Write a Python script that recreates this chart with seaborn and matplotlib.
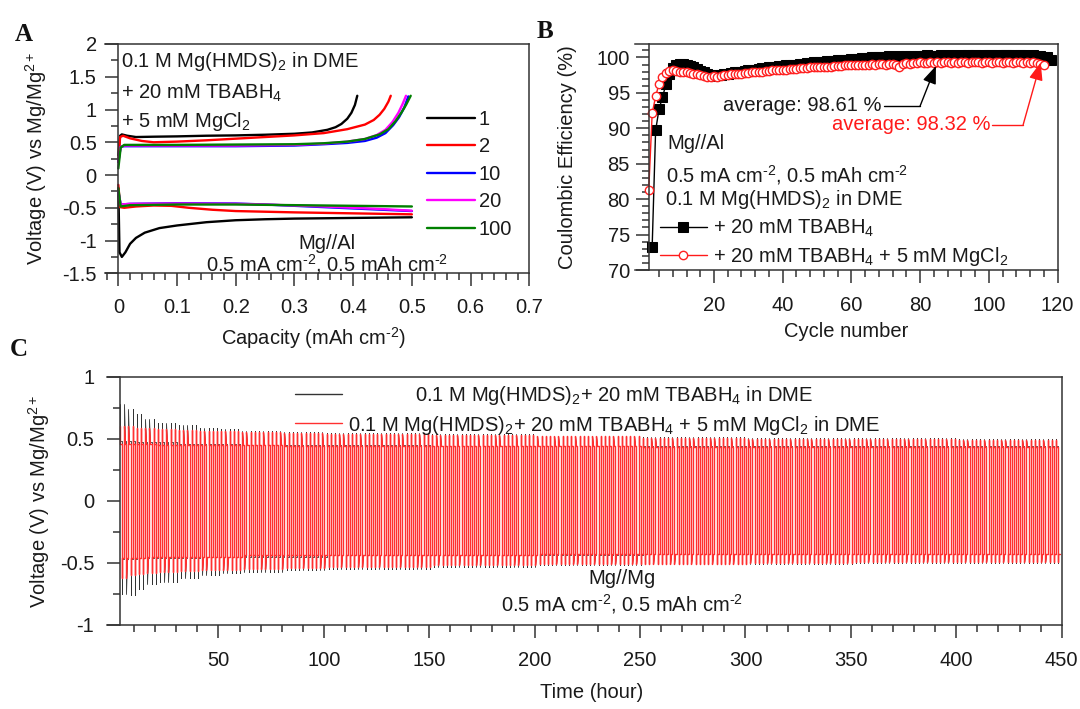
import numpy as np
import pandas as pd
import matplotlib
matplotlib.use("Agg")
import matplotlib.pyplot as plt
import seaborn as sns
from matplotlib.ticker import FixedLocator, MultipleLocator, FuncFormatter

sns.set_theme(style="ticks")
plt.rcParams['font.family'] = ['Liberation Sans', 'DejaVu Sans']
plt.rcParams['mathtext.fontset'] = 'custom'
plt.rcParams['mathtext.rm'] = 'Liberation Sans'
plt.rcParams['mathtext.it'] = 'Liberation Sans:italic'
plt.rcParams['mathtext.bf'] = 'Liberation Sans:bold'
plt.rcParams['axes.unicode_minus'] = False
plt.rcParams['path.simplify'] = False

# ---------------- Panel A data: voltage profiles of selected cycles ----------------
cycles_A = ["1", "2", "10", "20", "100"]
colors_A = ["#000000", "#ff0000", "#0000ff", "#ff00ff", "#008000"]

c1_chg_cap = [0, 0.003, 0.006, 0.015, 0.03, 0.06, 0.1, 0.15, 0.2, 0.25, 0.3, 0.33, 0.356, 0.37, 0.38, 0.39, 0.397, 0.403, 0.407]
c1_chg_v = [0.30, 0.60, 0.62, 0.60, 0.58, 0.585, 0.59, 0.60, 0.605, 0.615, 0.63, 0.65, 0.69, 0.73, 0.78, 0.86, 0.95, 1.07, 1.21]
c1_dis_cap = [0, 0.002, 0.006, 0.012, 0.02, 0.03, 0.045, 0.07, 0.1, 0.15, 0.2, 0.25, 0.3, 0.4, 0.5]
c1_dis_v = [-0.20, -1.18, -1.25, -1.18, -1.05, -0.96, -0.88, -0.81, -0.77, -0.72, -0.69, -0.675, -0.665, -0.655, -0.645]

c2_chg_cap = [0, 0.003, 0.008, 0.02, 0.04, 0.06, 0.1, 0.15, 0.2, 0.25, 0.3, 0.35, 0.39, 0.42, 0.435, 0.445, 0.453, 0.46, 0.464]
c2_chg_v = [0.20, 0.58, 0.60, 0.56, 0.52, 0.50, 0.51, 0.53, 0.555, 0.58, 0.605, 0.64, 0.70, 0.77, 0.84, 0.92, 1.01, 1.12, 1.21]
c2_dis_cap = [0, 0.003, 0.01, 0.03, 0.06, 0.09, 0.12, 0.16, 0.2, 0.25, 0.3, 0.4, 0.5]
c2_dis_v = [-0.15, -0.49, -0.50, -0.48, -0.465, -0.47, -0.50, -0.53, -0.55, -0.56, -0.57, -0.585, -0.60]

c10_chg_cap = [0, 0.004, 0.01, 0.05, 0.1, 0.2, 0.3, 0.35, 0.39, 0.42, 0.44, 0.455, 0.468, 0.478, 0.487, 0.494]
c10_chg_v = [0.20, 0.43, 0.44, 0.44, 0.44, 0.44, 0.45, 0.47, 0.49, 0.52, 0.57, 0.64, 0.76, 0.88, 1.03, 1.20]
c10_dis_cap = [0, 0.004, 0.02, 0.1, 0.2, 0.25, 0.3, 0.35, 0.4, 0.45, 0.5]
c10_dis_v = [-0.25, -0.45, -0.44, -0.43, -0.435, -0.45, -0.47, -0.49, -0.51, -0.53, -0.55]

c20_chg_cap = [0, 0.004, 0.01, 0.05, 0.1, 0.2, 0.3, 0.35, 0.39, 0.42, 0.44, 0.455, 0.467, 0.477, 0.484, 0.49]
c20_chg_v = [0.20, 0.43, 0.45, 0.45, 0.45, 0.45, 0.46, 0.48, 0.51, 0.55, 0.61, 0.69, 0.81, 0.95, 1.08, 1.21]
c20_dis_cap = [0, 0.004, 0.02, 0.1, 0.2, 0.25, 0.3, 0.35, 0.4, 0.45, 0.5]
c20_dis_v = [-0.25, -0.45, -0.44, -0.435, -0.44, -0.45, -0.465, -0.48, -0.50, -0.52, -0.545]

c100_chg_cap = [0, 0.004, 0.01, 0.05, 0.1, 0.2, 0.3, 0.35, 0.39, 0.42, 0.445, 0.46, 0.472, 0.482, 0.49, 0.498]
c100_chg_v = [0.10, 0.42, 0.46, 0.46, 0.46, 0.465, 0.47, 0.485, 0.51, 0.55, 0.62, 0.70, 0.82, 0.95, 1.07, 1.21]
c100_dis_cap = [0, 0.004, 0.02, 0.1, 0.2, 0.3, 0.4, 0.5]
c100_dis_v = [-0.20, -0.48, -0.46, -0.45, -0.45, -0.46, -0.47, -0.48]

# ---------------- Panel B data: Coulombic efficiency ----------------
ce_black = [73.3, 89.7, 92.7, 94.4, 96.2, 97.6, 98.5, 98.9, 99.1, 99.1,
            99.0, 98.8, 98.6, 98.4, 98.1, 97.9, 97.7, 97.5, 97.4, 97.5,
            97.5, 97.6, 97.7, 97.8, 97.9, 98.0, 98.0, 98.1, 98.2, 98.3,
            98.3, 98.4, 98.5, 98.5, 98.6, 98.7, 98.7, 98.8, 98.8, 98.9,
            98.9, 99.0, 99.0, 99.1, 99.1, 99.2, 99.2, 99.3, 99.3, 99.4,
            99.4, 99.5, 99.5, 99.5, 99.6, 99.6, 99.7, 99.7, 99.8, 99.8,
            99.8, 99.9, 99.9, 99.9, 100.0, 100.0, 100.0, 100.1, 100.1, 100.2,
            100.1, 100.1, 100.2, 100.1, 100.2, 100.2, 100.1, 100.2, 100.2, 100.2,
            100.3, 100.2, 100.2, 100.2, 100.3, 100.2, 100.2, 100.3, 100.2, 100.2,
            100.3, 100.2, 100.3, 100.4, 100.3, 100.2, 100.3, 100.2, 100.3, 100.3,
            100.2, 100.3, 100.3, 100.4, 100.3, 100.3, 100.2, 100.3, 100.3, 100.2,
            100.2, 100.3, 100.2, 100.2, 100.1, 100.0, 99.6]
ce_red = [81.3, 92.1, 94.5, 96.3, 97.2, 97.8, 98.1, 98.2, 98.1, 98.0,
          98.0, 97.9, 97.8, 97.7, 97.6, 97.5, 97.4, 97.2, 97.3, 97.4,
          97.3, 97.4, 97.5, 97.5, 97.6, 97.6, 97.7, 97.7, 97.8, 97.8,
          97.9, 97.9, 98.0, 98.0, 98.1, 98.1, 98.2, 98.2, 98.3, 98.3,
          98.3, 98.4, 98.4, 98.4, 98.5, 98.5, 98.5, 98.6, 98.6, 98.6,
          98.6, 98.7, 98.7, 98.7, 98.8, 98.8, 98.8, 98.9, 98.9, 98.9,
          99.0, 98.9, 99.0, 99.0, 99.0, 99.1, 99.0, 99.1, 99.1, 99.0,
          99.1, 99.1, 98.9, 98.6, 99.1, 99.2, 99.1, 99.2, 99.2, 99.3,
          99.2, 99.2, 99.3, 99.2, 99.3, 99.2, 99.3, 99.3, 99.2, 99.3,
          99.2, 99.3, 99.3, 99.2, 99.4, 99.3, 99.3, 99.2, 99.3, 99.3,
          99.2, 99.3, 99.3, 99.2, 99.3, 99.3, 99.2, 99.3, 99.3, 99.2,
          99.3, 99.2, 99.4, 99.2, 99.1, 99.0]
first_cycle_black = 2
first_cycle_red = 1
avg_black_label = "average: 98.61 %"
avg_red_label = "average: 98.32 %"

# ---------------- Panel C data: symmetric cell cycling envelope ----------------
c_env_t = [3, 6, 10, 15, 20, 30, 40, 50, 60, 80, 100, 150, 200, 250, 300, 350, 400]
black_peak_hi = [0.78, 0.74, 0.70, 0.66, 0.63, 0.61, 0.59, 0.575, 0.565, 0.555, 0.545, 0.535, 0.525, 0.515, 0.51, 0.505, 0.50]
black_peak_lo = [-0.75, -0.76, -0.71, -0.67, -0.65, -0.62, -0.60, -0.585, -0.575, -0.56, -0.55, -0.53, -0.52, -0.51, -0.505, -0.50, -0.50]
black_plat_hi = [0.48, 0.48, 0.47, 0.47, 0.47, 0.46, 0.46, 0.46, 0.45, 0.45, 0.45, 0.44, 0.44, 0.44, 0.44, 0.44, 0.44]
black_plat_lo = [-0.47, -0.47, -0.46, -0.46, -0.46, -0.46, -0.45, -0.45, -0.45, -0.45, -0.44, -0.44, -0.44, -0.43, -0.43, -0.43, -0.43]
red_peak_hi = [0.60, 0.60, 0.59, 0.585, 0.58, 0.57, 0.565, 0.56, 0.555, 0.545, 0.54, 0.53, 0.52, 0.51, 0.50, 0.495, 0.49]
red_peak_lo = [-0.62, -0.60, -0.59, -0.58, -0.575, -0.565, -0.56, -0.555, -0.55, -0.54, -0.535, -0.52, -0.51, -0.505, -0.50, -0.495, -0.49]
red_plat_hi = [0.46, 0.46, 0.46, 0.46, 0.45, 0.45, 0.45, 0.45, 0.45, 0.44, 0.44, 0.44, 0.44, 0.43, 0.43, 0.43, 0.43]
red_plat_lo = [-0.46, -0.46, -0.46, -0.45, -0.45, -0.45, -0.45, -0.45, -0.44, -0.44, -0.44, -0.44, -0.43, -0.43, -0.43, -0.43, -0.43]
c_cycle_hours = 2.0
c_start_black = 3.3
c_start_red = 3.3
c_end = 450

label_black_C = "0.1 M Mg(HMDS)$_2$+ 20 mM TBABH$_4$ in DME"
label_red_C = "0.1 M Mg(HMDS)$_2$+ 20 mM TBABH$_4$ + 5 mM MgCl$_2$ in DME"
areal_label = r"0.5 mA cm$^{\text{-}2}$, 0.5 mAh cm$^{\text{-}2}$"

# ---------------- helpers ----------------
TXT = "#1a1a1a"
SPINE = "#333333"
FS = 14.5
W, H = 1080, 709


def px_axes(fig, left, top, right, bottom):
    return fig.add_axes([left / W, 1 - bottom / H, (right - left) / W, (bottom - top) / H])


def style(ax, yaxis_at, ylabpad=6, xlabpad=6):
    for s in ["top", "right", "bottom", "left"]:
        ax.spines[s].set_visible(True)
        ax.spines[s].set_color(SPINE)
        ax.spines[s].set_linewidth(1.1)
    ax.spines["left"].set_position(("data", yaxis_at))
    ax.tick_params(which="major", direction="out", length=9.5, width=1.1, color=SPINE,
                   labelsize=FS, labelcolor=TXT, top=False, right=False)
    ax.tick_params(which="minor", direction="out", length=5, width=1.1, color=SPINE,
                   top=False, right=False)
    ax.tick_params(axis="y", which="major", pad=ylabpad)
    ax.tick_params(axis="x", which="major", pad=xlabpad)
    fmt = FuncFormatter(lambda v, p: "%g" % round(v, 6))
    ax.xaxis.set_major_formatter(fmt)
    ax.yaxis.set_major_formatter(fmt)
    ax.grid(False)


def cycling_wave(t0, period, t_end, env_t, phi, plhi, pllo, plo):
    ts, vs = [], []
    half = period / 2.0
    t = t0
    while t + period <= t_end + 1e-9:
        i = max(np.searchsorted(env_t, t, side="right") - 1, 0)
        ts += [t, t + 0.15 * half, t + half, t + half, t + 1.15 * half, t + period]
        vs += [phi[i], plhi[i], plhi[i], plo[i], pllo[i], pllo[i]]
        t += period
    return np.array(ts), np.array(vs)


fig = plt.figure(figsize=(10.8, 7.09), dpi=100)

# ================= Panel A =================
axA = px_axes(fig, 105, 44, 529.3, 273.3)
profiles = [
    (c1_chg_cap, c1_chg_v, c1_dis_cap, c1_dis_v),
    (c2_chg_cap, c2_chg_v, c2_dis_cap, c2_dis_v),
    (c10_chg_cap, c10_chg_v, c10_dis_cap, c10_dis_v),
    (c20_chg_cap, c20_chg_v, c20_dis_cap, c20_dis_v),
    (c100_chg_cap, c100_chg_v, c100_dis_cap, c100_dis_v),
]
handlesA = []
for name, col, (cc, cv, dc, dv) in zip(cycles_A, colors_A, profiles):
    df = pd.concat([
        pd.DataFrame({"cap": cc, "v": cv, "branch": "charge"}),
        pd.DataFrame({"cap": dc, "v": dv, "branch": "discharge"}),
    ])
    sns.lineplot(data=df, x="cap", y="v", units="branch", estimator=None, sort=False,
                 color=col, lw=1.7, ax=axA, legend=False)
    handlesA.append(axA.lines[-1])
axA.set_xlim(-0.0227, 0.7)
axA.set_ylim(-1.5, 2)
style(axA, 0, ylabpad=6, xlabpad=8)
axA.xaxis.set_major_locator(MultipleLocator(0.1))
axA.xaxis.set_minor_locator(MultipleLocator(0.02))
axA.yaxis.set_major_locator(MultipleLocator(0.5))
axA.yaxis.set_minor_locator(MultipleLocator(0.25))
axA.set_xlabel(r"Capacity (mAh cm$^{\text{-}2}$)", fontsize=FS, color=TXT)
axA.set_ylabel("Voltage (V) vs Mg/Mg$^{2+}$", fontsize=FS, color=TXT)
axA.xaxis.set_label_coords(0.4926, -0.225)
axA.yaxis.set_label_coords(-0.132, 0.5)
legA = axA.legend(handlesA, cycles_A, loc="upper left", bbox_to_anchor=(0.758, 0.712),
                  frameon=False, fontsize=FS, handlelength=2.4, handletextpad=0.2,
                  borderpad=0, borderaxespad=0, labelspacing=0.42)
for t in legA.get_texts():
    t.set_color(TXT)
axA.text(0.037, 0.8986, "0.1 M Mg(HMDS)$_2$ in DME", transform=axA.transAxes,
         fontsize=FS, color=TXT, va="baseline", ha="left")
axA.text(0.037, 0.763, "+ 20 mM TBABH$_4$", transform=axA.transAxes,
         fontsize=FS, color=TXT, va="baseline", ha="left")
axA.text(0.037, 0.6375, "+ 5 mM MgCl$_2$", transform=axA.transAxes,
         fontsize=FS, color=TXT, va="baseline", ha="left")
axA.text(0.524, 0.104, "Mg//Al", transform=axA.transAxes,
         fontsize=FS, color=TXT, va="baseline", ha="center")
axA.text(0.524, 0.010, areal_label, transform=axA.transAxes,
         fontsize=FS, color=TXT, va="baseline", ha="center")

# ================= Panel B =================
axB = px_axes(fig, 635, 44, 1057.5, 270)
dfb = pd.DataFrame({"cycle": np.arange(first_cycle_black, first_cycle_black + len(ce_black)),
                    "ce": ce_black})
dfr = pd.DataFrame({"cycle": np.arange(first_cycle_red, first_cycle_red + len(ce_red)),
                    "ce": ce_red})
sns.lineplot(data=dfb, x="cycle", y="ce", color="black", lw=1.0, marker="s",
             markersize=7, markerfacecolor="black", markeredgecolor="black",
             ax=axB, label="+ 20 mM TBABH$_4$")
sns.lineplot(data=dfr, x="cycle", y="ce", color="#ff1a1a", lw=1.0, marker="o",
             markersize=6, markerfacecolor="white", markeredgecolor="#ff2020",
             markeredgewidth=1.0, ax=axB, label="+ 20 mM TBABH$_4$ + 5 mM MgCl$_2$")
axB.set_xlim(-3, 120)
axB.set_ylim(70, 101.9)
style(axB, 1, ylabpad=4, xlabpad=9)
axB.xaxis.set_major_locator(FixedLocator([20, 40, 60, 80, 100, 120]))
axB.xaxis.set_minor_locator(FixedLocator([v for v in range(4, 120, 4) if v % 20]))
axB.yaxis.set_major_locator(MultipleLocator(5))
axB.yaxis.set_minor_locator(MultipleLocator(1))
axB.set_xlabel("Cycle number", fontsize=FS, color=TXT)
axB.set_ylabel("Coulombic Efficiency (%)", fontsize=FS, color=TXT)
axB.xaxis.set_label_coords(0.5, -0.232)
axB.yaxis.set_label_coords(-0.137, 0.5)
legB = axB.legend(loc="upper left", bbox_to_anchor=(0.0585, 0.232), frameon=False,
                  fontsize=FS, handlelength=2.35, handletextpad=0.3, borderpad=0,
                  borderaxespad=0, labelspacing=0.3)
for t in legB.get_texts():
    t.set_color(TXT)
axB.text(0.0756, 0.558, "Mg//Al", transform=axB.transAxes, fontsize=FS, color=TXT,
         va="center", ha="left")
axB.text(0.074, 0.42, areal_label, transform=axB.transAxes,
         fontsize=FS, color=TXT, va="center", ha="left")
axB.text(0.0715, 0.313, "0.1 M Mg(HMDS)$_2$ in DME", transform=axB.transAxes,
         fontsize=FS, color=TXT, va="center", ha="left")
# average annotations (leader line + arrow)
axB.text(68.8, 93.15, avg_black_label, fontsize=FS, color=TXT, ha="right", va="center")
axB.plot([69.6, 80.0], [93.15, 93.15], color="black", lw=1.0)
axB.annotate("", xy=(84.6, 98.8), xytext=(80.0, 93.15),
             arrowprops=dict(arrowstyle="-|>,head_length=0.9,head_width=0.35",
                             color="black", lw=1.0, shrinkA=0, shrinkB=0, mutation_scale=12))
axB.text(100.4, 90.5, avg_red_label, fontsize=FS, color="#ff1a1a", ha="right", va="center")
axB.plot([101.0, 110.0], [90.5, 90.5], color="#ff1a1a", lw=1.0)
axB.annotate("", xy=(115.1, 99.3), xytext=(110.0, 90.5),
             arrowprops=dict(arrowstyle="-|>,head_length=0.9,head_width=0.35",
                             color="#ff1a1a", lw=1.0, shrinkA=0, shrinkB=0, mutation_scale=12))

# ================= Panel C =================
axC = px_axes(fig, 106.7, 376.7, 1061.7, 625)
tb, vb = cycling_wave(c_start_black, c_cycle_hours, c_end, c_env_t,
                      black_peak_hi, black_plat_hi, black_plat_lo, black_peak_lo)
tr, vr = cycling_wave(c_start_red, c_cycle_hours, c_end, c_env_t,
                      red_peak_hi, red_plat_hi, red_plat_lo, red_peak_lo)
sns.lineplot(x=tb, y=vb, sort=False, estimator=None, color="#333333", lw=0.6, ax=axC,
             label=" " * 12 + label_black_C)
axC.lines[-1].set_snap(True)
sns.lineplot(x=tr, y=vr, sort=False, estimator=None, color="#ff3030", lw=1.0, ax=axC,
             label=label_red_C)
axC.lines[-1].set_snap(True)
axC.set_xlim(-3, 450)
axC.set_ylim(-1, 1)
style(axC, 3.3, ylabpad=9, xlabpad=9)
axC.xaxis.set_major_locator(FixedLocator(list(range(50, 451, 50))))
axC.xaxis.set_minor_locator(FixedLocator([v for v in range(10, 450, 10) if v % 50]))
axC.yaxis.set_major_locator(MultipleLocator(0.5))
axC.yaxis.set_minor_locator(MultipleLocator(0.25))
axC.set_xlabel("Time (hour)", fontsize=FS, color=TXT)
axC.set_ylabel("Voltage (V) vs Mg/Mg$^{2+}$", fontsize=FS, color=TXT)
axC.xaxis.set_label_coords(0.508, -0.235)
axC.yaxis.set_label_coords(-0.057, 0.5)
legC = axC.legend(loc="upper left", bbox_to_anchor=(0.197, 0.971), frameon=False,
                  fontsize=FS, handlelength=2.35, handletextpad=0.3, borderpad=0,
                  borderaxespad=0, labelspacing=0.33)
for t in legC.get_texts():
    t.set_color(TXT)
for ln in legC.get_lines():
    ln.set_linewidth(1.0)
axC.text(0.5397, 0.166, "Mg//Mg", transform=axC.transAxes, fontsize=FS, color=TXT,
         va="baseline", ha="center")
axC.text(0.5397, 0.054, areal_label, transform=axC.transAxes,
         fontsize=FS, color=TXT, va="baseline", ha="center")

# panel letters
for letter, x, y in [("A", 15, 41), ("B", 537, 38), ("C", 10, 356)]:
    fig.text(x / W, 1 - y / H, letter, fontsize=18, fontweight="bold",
             family=["Liberation Serif", "DejaVu Serif"], color="#111111", va="baseline", ha="left")

fig.savefig("out.png", dpi=100)
